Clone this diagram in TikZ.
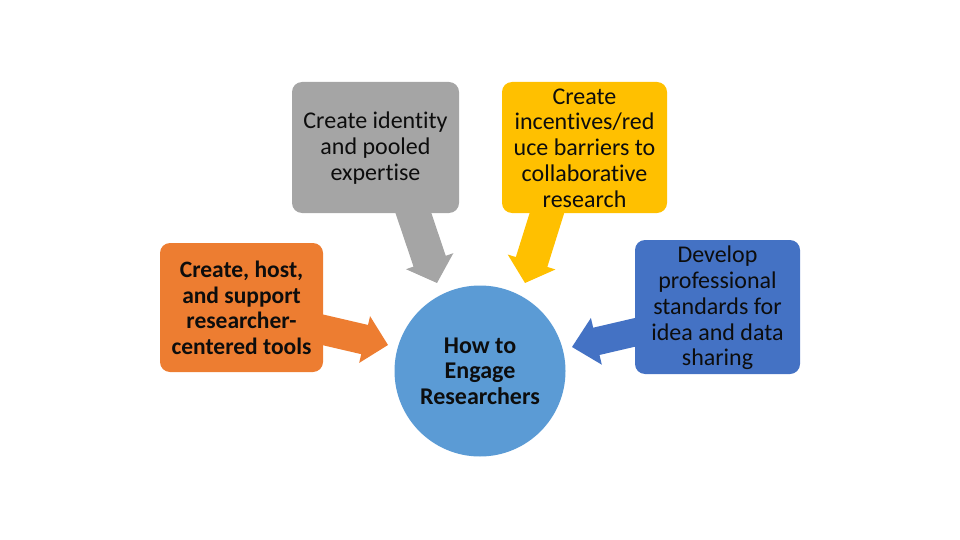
\documentclass[tikz,border=0pt]{standalone}
\usepackage{fontspec}
\setmainfont{Carlito}[RawFeature=-liga]
\usetikzlibrary{calc}
\definecolor{cgray}{HTML}{A5A5A5}
\definecolor{cyellow}{HTML}{FFC000}
\definecolor{corange}{HTML}{ED7D31}
\definecolor{cblue}{HTML}{4472C4}
\definecolor{ccircle}{HTML}{5B9BD5}
\definecolor{ctext}{HTML}{0D0D0D}
\tikzset{
  card/.style={rounded corners=10pt, inner sep=0pt, align=center,
    font=\fontsize{24}{25.8}\selectfont, text=ctext},
  hub/.style={circle, fill=ccircle, minimum size=171pt, inner sep=0pt,
    align=center, font=\fontsize{24}{25.6}\selectfont\bfseries, text=ctext},
}
% #1 colour, #2 start, #3 end, #4 shaft half width, #5 head half width, #6 head length
\newcommand{\blockarrow}[6]{%
  \fill[#1] let \p1=($(#3)-(#2)$), \n1={atan2(\y1,\x1)}, \n2={veclen(\x1,\y1)} in
    [shift={(#2)}, rotate=\n1]
    (0pt,-#4pt) -- (\n2-#6pt,-#4pt) -- (\n2-#6pt,-#5pt) -- (\n2,0pt)
    -- (\n2-#6pt,#5pt) -- (\n2-#6pt,#4pt) -- (0pt,#4pt) -- cycle;}
\begin{document}
\begin{tikzpicture}[x=1pt,y=-1pt]
\useasboundingbox (0,0) rectangle (960,540);
% connector end points
\coordinate (gs) at (409,200);
\coordinate (ge) at (437,283);
\coordinate (ys) at (551,200);
\coordinate (ye) at (525,283);
\coordinate (os) at (315,328);
\coordinate (oe) at (388,345);
\coordinate (bs) at (645,330);
\coordinate (be) at (572,347);
% block arrows
\blockarrow{cgray}{gs}{ge}{17}{25}{23}
\blockarrow{cyellow}{ys}{ye}{16.5}{25}{22}
\blockarrow{corange}{os}{oe}{15}{24}{24}
\blockarrow{cblue}{bs}{be}{14}{24}{25}
% boxes
\fill[cgray, rounded corners=10pt] (292,82) rectangle (459,213);
\node[card] (gray) at (375.5,148) {Create identity\\and pooled\\expertise};
\fill[cyellow, rounded corners=10pt] (502,82) rectangle (667,213);
\node[card] (yellow) at (584.5,148) {Create\\incentives/red\\uce barriers to\\collaborative\\research};
\fill[corange, rounded corners=10pt] (160,243) rectangle (323,372);
\node[card, font=\fontsize{23.5}{25.6}\selectfont\bfseries] (orange) at (241.5,308) {Create, host,\\and support\\researcher-\\centered tools};
\fill[cblue, rounded corners=10pt] (635,240) rectangle (800,374);
\node[card] (blue) at (717.5,308) {Develop\\professional\\standards for\\idea and data\\sharing};
% hub
\node[hub] (hubnode) at (480,371) {How to\\Engage\\Researchers};
\end{tikzpicture}
\end{document}
